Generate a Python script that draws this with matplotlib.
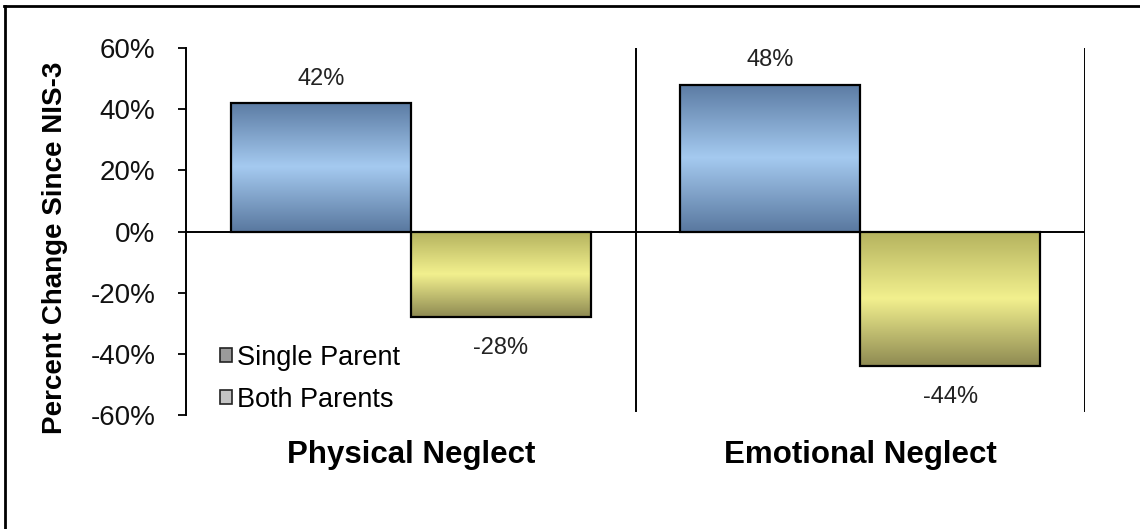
import numpy as np
import matplotlib
matplotlib.use("Agg")
import matplotlib.pyplot as plt
from matplotlib.colors import LinearSegmentedColormap
from matplotlib.lines import Line2D

categories = ["Physical Neglect", "Emotional Neglect"]
series = ["Single Parent", "Both Parents"]
single_parent = [42, 48]
both_parents = [-28, -44]
yticks = [-60, -40, -20, 0, 20, 40, 60]

plt.rcParams['font.family'] = ['Liberation Sans', 'DejaVu Sans']

fig = plt.figure(figsize=(11.4, 5.29), dpi=100)
ax = fig.add_axes([186/1140, 1 - 415/529, (1085 - 186)/1140, (415 - 48)/529])

x = np.arange(len(categories))
w = 0.4
bars1 = ax.bar(x - w/2, single_parent, w, edgecolor='black', linewidth=1.6,
               color='#7fa3cc', label=series[0], zorder=2)
bars2 = ax.bar(x + w/2, both_parents, w, edgecolor='black', linewidth=1.6,
               color='#d8d878', label=series[1], zorder=2)

# shaded fill: dark at the ends, light in the middle
blue = LinearSegmentedColormap.from_list('b', ['#5b7ba3', '#a5caf0', '#5a79a0'])
yellow = LinearSegmentedColormap.from_list('y', ['#b4b25e', '#f2f08e', '#8e8a52'])
grad = np.linspace(0, 1, 256).reshape(-1, 1)
for bars, cmap in [(bars1, blue), (bars2, yellow)]:
    for b in bars:
        x0, y0 = b.get_x(), b.get_y()
        x1, y1 = x0 + b.get_width(), y0 + b.get_height()
        im = ax.imshow(grad, cmap=cmap, aspect='auto', origin='upper',
                       extent=[x0, x1, min(y0, y1), max(y0, y1)], zorder=2.5)
        im.set_clip_path(b)
        b.set_zorder(3)
        b.set_facecolor('none')

for bars, vals in [(bars1, single_parent), (bars2, both_parents)]:
    for b, v in zip(bars, vals):
        cx = b.get_x() + b.get_width()/2
        off = 8.0 if v > 0 else -10.0
        ax.text(cx, v + off, f"{v}%", ha='center', va='center', fontsize=17,
                color='#222222')

ax.set_xlim(-0.5, len(categories) - 0.5)
ax.set_ylim(-60, 60)
ax.set_yticks(yticks)
ax.set_yticklabels([f"{t}%" for t in yticks], fontsize=20, color='#111111')
ax.tick_params(axis='y', length=6, width=1.3, direction='out', pad=16)
ax.tick_params(axis='x', length=0)
ax.set_xticks([])
ax.axhline(0, color='black', linewidth=1.4, zorder=4)
for xs in [0.5, 1.5]:
    ax.axvline(xs, ymin=0.01, color='black', linewidth=1.4, zorder=1)
for s in ['top', 'right', 'bottom']:
    ax.spines[s].set_visible(False)
ax.spines['left'].set_linewidth(1.4)

for i, c in enumerate(categories):
    ax.text(i, -73, c, ha='center', va='center', fontsize=22.5, fontweight='bold')

ax.set_ylabel("Percent Change Since NIS-3", fontsize=20, fontweight='bold')
ax.yaxis.set_label_coords(-0.131, 0.455)

leg = ax.legend(loc='lower left', bbox_to_anchor=(0.026, -0.024), frameon=False,
                fontsize=19.5, handlelength=0.42, handleheight=0.42, handletextpad=0.2,
                labelspacing=0.6, borderaxespad=0.0)
for h, fc in zip(leg.legend_handles, ['#9a9a9a', '#c4c4c4']):
    h.set_facecolor(fc)
    h.set_edgecolor('#222222')
    h.set_linewidth(1.2)

fig.add_artist(Line2D([4/1140, 1], [1 - 6/529, 1 - 6/529], color='black', linewidth=2))
fig.add_artist(Line2D([5/1140, 5/1140], [0, 1 - 6/529], color='black', linewidth=2))

fig.savefig("out.png", dpi=100)
